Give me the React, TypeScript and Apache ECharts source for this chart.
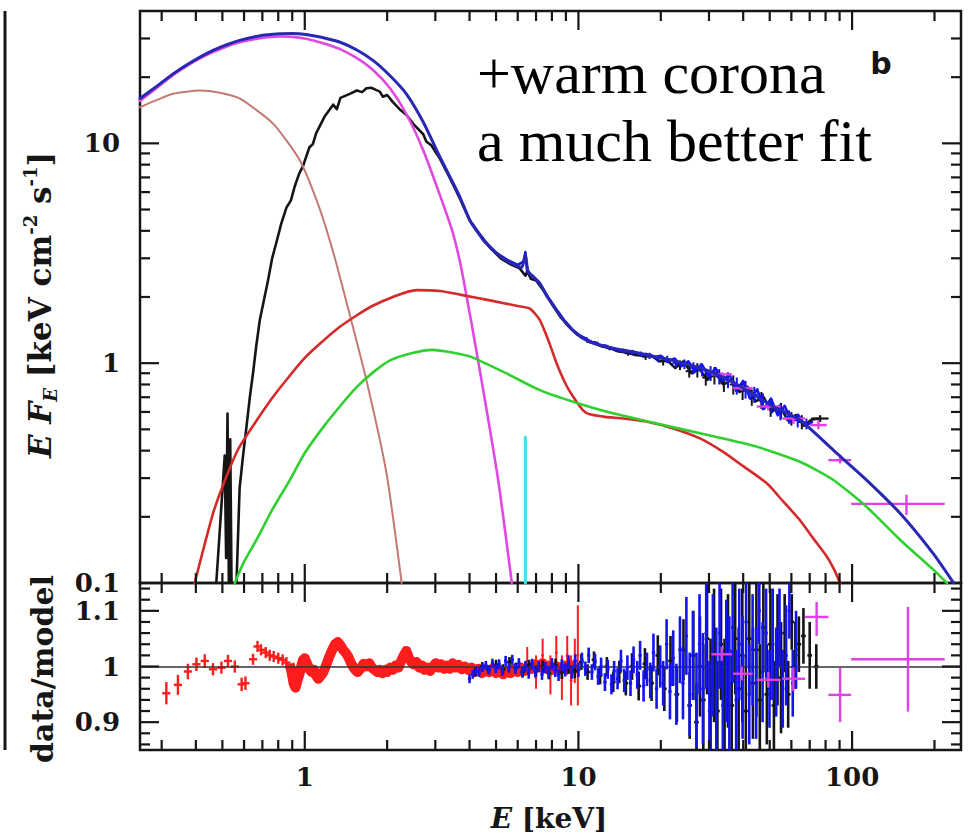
import React, { useEffect, useRef } from "react";
import * as echarts from "echarts";

// ---------------- axis ticks / labels ----------------
const xMajorTicks = [1, 10, 100];
const xMinorTicks = [0.3, 0.4, 0.5, 0.6, 0.7, 0.8, 0.9, 2, 3, 4, 5, 6, 7, 8, 9, 20, 30, 40, 50, 60, 70, 80, 90, 200];
const fluxMajorTicks = [1, 10];
const fluxMinorTicks = [0.2, 0.3, 0.4, 0.5, 0.6, 0.7, 0.8, 0.9, 2, 3, 4, 5, 6, 7, 8, 9, 20, 30];
const ratioMajorTicks = [0.9, 1.0, 1.1];
const ratioTickLabels = ["0.9", "1", "1.1"];
const ratioMinorTicks = [0.86, 0.88, 0.92, 0.94, 0.96, 0.98, 1.02, 1.04, 1.06, 1.08, 1.12, 1.14];

// ---------------- model components (E [keV], E F_E) ----------------
const totalModel = [
  [0.25, 16.0], [0.29, 18.3], [0.33, 20.7], [0.38, 23.2], [0.437, 25.6], [0.5, 27.6], [0.578, 29.4],
  [0.68, 30.8], [0.81, 31.5], [0.9, 31.6], [1.01, 31.3], [1.15, 30.4], [1.34, 28.9], [1.55, 26.6],
  [1.78, 23.8], [2.05, 20.3], [2.35, 16.8], [2.7, 12.6], [3.12, 8.66], [3.4, 7.0], [3.69, 5.7],
  [4.01, 4.47], [4.35, 3.85], [4.75, 3.38], [5.3, 3.0], [5.8, 2.82], [6.2, 2.72], [6.4, 3.1],
  [6.55, 2.62], [7.23, 2.3], [7.7, 2.0], [8.32, 1.74], [9.0, 1.52], [9.85, 1.36], [11.0, 1.25],
  [13.0, 1.18], [16.8, 1.107], [22, 1.03], [29.4, 0.93], [38, 0.8], [51.6, 0.633], [64.5, 0.551],
  [85.4, 0.402], [113, 0.294], [150, 0.207], [198, 0.136], [235, 0.1],
];
const softComptonModel = [
  [0.25, 15.6], [0.29, 18.0], [0.33, 20.4], [0.38, 22.9], [0.437, 25.2], [0.5, 27.1], [0.578, 28.8],
  [0.68, 30.0], [0.81, 30.6], [0.9, 30.5], [1.01, 29.9], [1.15, 28.7], [1.34, 26.9], [1.55, 24.4],
  [1.78, 21.5], [2.05, 17.8], [2.35, 13.6], [2.7, 9.4], [3.12, 5.8], [3.48, 3.9], [3.78, 2.5],
  [4.36, 0.93], [5.09, 0.294], [5.71, 0.1],
];
const discModel = [
  [0.25, 14.6], [0.29, 15.8], [0.33, 16.8], [0.413, 17.4], [0.49, 17.0], [0.578, 16.0], [0.766, 12.3],
  [0.959, 8.37], [1.13, 5.1], [1.27, 3.2], [1.42, 1.9], [1.68, 0.837], [1.99, 0.315], [2.26, 0.1],
];
const reflectionModel = [
  [0.396, 0.1], [0.462, 0.207], [0.52, 0.31], [0.578, 0.417], [0.766, 0.703], [1.01, 1.07], [1.34, 1.46],
  [1.78, 1.83], [2.56, 2.15], [3.12, 2.13], [3.69, 2.05], [4.75, 1.93], [6.0, 1.82], [6.65, 1.77],
  [7.23, 1.57], [7.8, 1.25], [8.32, 1.0], [9.0, 0.8], [9.57, 0.703], [10.4, 0.61], [11.0, 0.585],
  [12.5, 0.57], [14.6, 0.56], [18, 0.54], [22.2, 0.505], [27.8, 0.455], [33.8, 0.395], [40, 0.34],
  [48.8, 0.284], [56, 0.235], [64.5, 0.193], [72, 0.16], [80.8, 0.132], [86, 0.115], [90.4, 0.1],
];
const hotCoronaModel = [
  [0.555, 0.1], [0.6, 0.125], [0.666, 0.157], [0.76, 0.215], [0.882, 0.294], [1.0, 0.39], [1.17, 0.513],
  [1.35, 0.64], [1.55, 0.78], [1.8, 0.92], [2.05, 1.03], [2.45, 1.11], [2.94, 1.15], [3.3, 1.13],
  [3.69, 1.1], [4.12, 1.06], [5.46, 0.898], [7.23, 0.754], [9.57, 0.667], [12.7, 0.601], [19.3, 0.532],
  [29.4, 0.472], [44, 0.42], [64.5, 0.356], [85.4, 0.294], [113, 0.222], [150, 0.157], [198, 0.115],
  [222, 0.1],
];
const ironLine = [[6.4, 0.1], [6.4, 0.46]];

// ---------------- unfolded data (top panel) ----------------
const blackData = [
  [0.475, 0.1], [0.51, 0.38], [0.516, 0.13], [0.522, 0.59], [0.528, 0.1], [0.534, 0.45], [0.54, 0.1],
  [0.563, 0.1], [0.578, 0.27], [0.595, 0.38], [0.612, 0.51], [0.63, 0.7], [0.647, 0.9], [0.665, 1.2],
  [0.685, 1.57], [0.71, 1.95], [0.734, 2.38], [0.76, 3.0], [0.788, 3.55], [0.82, 4.3], [0.857, 5.1],
  [0.89, 5.5], [0.92, 6.4], [0.955, 7.3], [0.986, 7.9], [1.04, 9.6], [1.07, 9.9], [1.1, 11.1],
  [1.18, 13.2], [1.27, 15.0], [1.31, 14.3], [1.35, 16.1], [1.46, 16.8], [1.55, 17.4], [1.62, 17.1],
  [1.68, 17.8], [1.75, 17.9], [1.82, 17.5], [1.88, 17.2], [1.93, 16.3], [2.0, 16.6], [2.1, 15.4],
  [2.22, 14.3], [2.35, 13.5], [2.5, 12.2], [2.71, 11.0], [2.78, 10.2], [2.9, 9.8], [3.12, 8.5],
  [3.4, 6.9], [3.69, 5.6], [4.01, 4.45], [4.4, 3.8], [4.75, 3.35], [5.2, 3.0], [5.7, 2.8], [6.1, 2.7],
  [6.4, 2.5], [6.5, 2.62], [6.7, 2.42], [7.0, 2.38], [7.5, 2.12], [8.0, 1.86], [8.6, 1.62], [9.2, 1.48],
  [9.9, 1.35], [10.6, 1.29], [11.4, 1.23], [12.2, 1.19], [13.1, 1.17], [14.0, 1.13], [15.0, 1.12],
  [16.1, 1.09], [17.2, 1.08], [18.4, 1.09], [19.7, 1.02], [21.1, 1.03], [22.6, 0.95], [24.2, 1.02],
  [25.9, 0.9], [27.7, 0.94], [29.6, 0.84], [31.7, 0.9], [33.9, 0.8], [36.3, 0.84], [38.8, 0.74],
  [41.5, 0.78], [44.4, 0.67], [47.5, 0.7], [50.8, 0.6], [54.4, 0.64], [58.2, 0.55], [62.3, 0.58],
  [66.7, 0.52], [71.4, 0.555], [76.4, 0.56],
];
const blueData = [
  [4.1, 4.3], [4.5, 3.6], [5.0, 3.18], [5.5, 2.95], [6.0, 2.8], [6.3, 2.9], [6.4, 3.2], [6.5, 2.6],
  [6.8, 2.5], [7.2, 2.33], [7.7, 2.02], [8.3, 1.76], [8.9, 1.56], [9.5, 1.42], [10.2, 1.33], [11.0, 1.26],
  [11.8, 1.22], [12.5, 1.19], [13.3, 1.17], [14.1, 1.14], [15.0, 1.13], [15.8, 1.13], [16.8, 1.1],
  [17.8, 1.1], [18.9, 1.06], [20.0, 1.08], [21.2, 1.02], [22.5, 1.05], [23.8, 0.97], [25.2, 1.02],
  [26.7, 0.92], [28.2, 0.99], [29.9, 0.87], [31.7, 0.95], [33.6, 0.83], [35.6, 0.89], [37.7, 0.75],
  [40.0, 0.83], [42.4, 0.69], [45.0, 0.76], [47.7, 0.62], [50.5, 0.69], [53.5, 0.58], [56.7, 0.64],
  [60.0, 0.54], [63.6, 0.58], [67.4, 0.52], [71.4, 0.54],
];
// [E, F, dF]
const blueTopBars = [
  [10.5, 1.3, 0.02], [11.5, 1.24, 0.02], [12.5, 1.2, 0.02], [13.5, 1.16, 0.025], [14.6, 1.14, 0.025],
  [15.7, 1.12, 0.03], [16.9, 1.1, 0.03], [18.2, 1.08, 0.035], [19.6, 1.05, 0.04], [21.1, 1.04, 0.04],
  [22.7, 1.0, 0.045], [24.4, 0.99, 0.05], [26.3, 0.95, 0.06], [28.3, 0.93, 0.06], [30.4, 0.9, 0.07],
  [32.7, 0.87, 0.07], [35.2, 0.84, 0.07], [37.9, 0.79, 0.07], [40.8, 0.76, 0.07], [43.9, 0.72, 0.06],
  [47.2, 0.67, 0.06], [50.8, 0.64, 0.05], [54.7, 0.6, 0.05], [58.8, 0.57, 0.04], [63.3, 0.55, 0.04],
  [68.1, 0.53, 0.03],
];
const blackTopBars = [
  [11.0, 1.25, 0.02], [13.0, 1.17, 0.025], [15.2, 1.11, 0.03], [17.6, 1.07, 0.035], [20.4, 1.02, 0.045],
  [23.5, 0.98, 0.05], [25.4, 0.92, 0.06], [27.2, 0.93, 0.07], [29.2, 0.86, 0.07], [31.4, 0.88, 0.08],
  [34.0, 0.81, 0.07], [36.8, 0.8, 0.08], [39.8, 0.75, 0.07], [43.0, 0.7, 0.06], [46.6, 0.68, 0.06],
  [50.4, 0.62, 0.05], [55.0, 0.61, 0.05], [60.0, 0.56, 0.04], [65.5, 0.54, 0.04],
];
// [E, F, Elo, Ehi, Flo, Fhi]
const pinkData = [
  [33.4, 0.89, 30.6, 36.4, 0.87, 0.91], [39.5, 0.77, 36.7, 43.3, 0.75, 0.79],
  [49.4, 0.635, 44.8, 54.8, 0.61, 0.66], [61, 0.56, 55.6, 67.3, 0.53, 0.58],
  [75.3, 0.523, 70.1, 80.8, 0.5, 0.55], [90.4, 0.362, 81.9, 99.2, 0.35, 0.375],
  [158, 0.229, 99.2, 218, 0.204, 0.252],
];
const blackEndCross = [[76.4, 0.56, 71.0, 82.0, 0.54, 0.58]];

// ---------------- residuals (data/model) ----------------
// [E, ratio, error]
const redResCrosses = [
  [0.312, 0.952, 0.02], [0.344, 0.967, 0.018], [0.374, 0.991, 0.014], [0.402, 1.004, 0.012],
  [0.431, 1.01, 0.012], [0.462, 0.995, 0.011], [0.496, 0.998, 0.011], [0.524, 1.01, 0.011],
  [0.555, 1.0, 0.011], [0.588, 0.968, 0.012], [0.607, 0.97, 0.012], [0.647, 1.013, 0.01],
  [0.672, 1.036, 0.01], [0.692, 1.03, 0.01], [0.72, 1.025, 0.01], [0.745, 1.02, 0.01],
  [0.77, 1.018, 0.01], [0.8, 1.015, 0.01], [0.83, 1.012, 0.01], [0.857, 1.007, 0.01],
];
const redResBand = [
  [0.88, 1.005], [0.895, 0.99], [0.91, 0.97], [0.925, 0.962], [0.94, 0.975], [0.955, 0.985], [0.97, 1.0],
  [0.985, 1.012], [1.0, 1.015], [1.02, 1.005], [1.04, 0.995], [1.06, 0.99], [1.08, 0.994], [1.1, 0.984],
  [1.12, 0.978], [1.14, 0.982], [1.17, 0.99], [1.2, 1.004], [1.23, 1.018], [1.26, 1.03], [1.29, 1.04],
  [1.32, 1.044], [1.35, 1.038], [1.38, 1.03], [1.41, 1.025], [1.44, 1.018], [1.47, 1.008], [1.5, 1.0],
  [1.53, 0.994], [1.56, 0.99], [1.6, 0.996], [1.64, 1.005], [1.68, 1.0], [1.72, 1.006], [1.76, 0.998],
  [1.8, 0.994], [1.84, 0.99], [1.88, 0.994], [1.92, 0.988], [1.96, 0.994], [2.0, 0.99], [2.05, 0.998],
  [2.1, 0.994], [2.15, 1.002], [2.2, 0.998], [2.25, 1.01], [2.3, 1.02], [2.35, 1.028], [2.4, 1.016],
  [2.45, 1.008], [2.5, 1.004], [2.56, 1.008], [2.62, 0.998], [2.68, 1.002], [2.74, 0.994], [2.8, 0.998],
  [2.87, 0.992], [2.94, 1.0], [3.01, 1.006], [3.08, 0.998], [3.15, 1.004], [3.23, 0.996], [3.31, 1.002],
  [3.39, 0.996], [3.47, 1.006], [3.56, 0.998], [3.65, 1.003], [3.75, 0.995], [3.85, 1.0], [3.96, 0.994],
  [4.07, 0.998], [4.19, 0.99], [4.31, 0.996], [4.44, 0.988], [4.57, 0.994], [4.71, 0.99], [4.85, 0.996],
  [5.0, 0.988], [5.15, 0.994], [5.31, 0.986], [5.47, 0.992], [5.64, 0.988], [5.81, 0.995], [5.99, 0.99],
  [6.17, 0.998], [6.36, 0.992], [6.55, 1.0], [6.75, 0.996], [6.96, 1.004], [7.17, 0.998], [7.39, 1.006],
  [7.62, 0.996], [7.85, 1.002], [8.09, 0.994], [8.34, 1.0], [8.6, 0.994], [8.86, 1.002], [9.13, 0.996],
  [9.41, 1.002], [9.7, 0.996], [9.95, 1.0],
];
const redResBars = [
  [6.5, 1.01, 0.025], [7.0, 0.99, 0.03], [7.4, 1.02, 0.03], [7.9, 0.985, 0.035], [8.3, 1.025, 0.03],
  [8.7, 0.98, 0.04], [9.1, 1.02, 0.035], [9.4, 0.975, 0.045], [9.7, 1.01, 0.04], [9.95, 1.02, 0.09],
];
const blueRes = [
  [4.0, 0.978, 0.008], [4.11, 0.986, 0.008], [4.22, 0.992, 0.008], [4.34, 0.99, 0.008], [4.46, 0.998, 0.008],
  [4.59, 1.002, 0.008], [4.72, 0.994, 0.008], [4.85, 1.006, 0.008], [4.99, 0.996, 0.008], [5.13, 1.004, 0.009],
  [5.27, 0.992, 0.009], [5.42, 1.01, 0.009], [5.57, 0.998, 0.009], [5.73, 1.012, 0.009], [5.89, 0.996, 0.009],
  [6.06, 1.006, 0.009], [6.23, 0.99, 0.009], [6.4, 1.0, 0.01], [6.58, 0.988, 0.01], [6.77, 1.004, 0.01],
  [6.96, 0.99, 0.01], [7.16, 1.0, 0.01], [7.36, 0.986, 0.01], [7.57, 0.998, 0.01], [7.78, 0.99, 0.011],
  [8.0, 1.004, 0.011], [8.23, 0.992, 0.011], [8.46, 0.985, 0.011], [8.7, 1.002, 0.011], [8.95, 0.994, 0.012],
  [9.2, 1.008, 0.012], [9.46, 0.99, 0.012], [9.73, 1.01, 0.012], [10.0, 0.994, 0.013], [10.3, 1.012, 0.013],
  [10.6, 0.996, 0.013], [10.9, 1.02, 0.014], [11.2, 0.99, 0.014], [11.5, 1.008, 0.015], [11.8, 0.982, 0.015],
  [12.1, 1.0, 0.016], [12.5, 0.972, 0.016], [12.8, 0.995, 0.017], [13.2, 0.968, 0.018], [13.5, 0.992, 0.018],
  [13.9, 0.978, 0.019], [14.3, 1.01, 0.02], [14.7, 0.975, 0.021], [15.1, 0.998, 0.022], [15.5, 0.97, 0.023],
  [15.9, 1.012, 0.024], [16.4, 0.985, 0.025], [16.8, 1.02, 0.026], [17.3, 0.965, 0.028], [17.8, 0.995, 0.03],
  [18.3, 0.975, 0.032], [18.8, 1.025, 0.034], [19.3, 0.96, 0.036], [19.9, 1.0, 0.038], [20.4, 0.97, 0.04],
  [21.0, 1.04, 0.045], [21.6, 0.955, 0.05], [22.2, 1.015, 0.05], [22.8, 0.95, 0.055], [23.5, 1.03, 0.06],
  [24.1, 0.97, 0.065], [24.8, 1.055, 0.07], [25.5, 0.95, 0.075], [26.2, 1.02, 0.08], [27.0, 0.94, 0.085],
  [27.7, 1.04, 0.09], [28.5, 0.96, 0.1], [29.3, 1.06, 0.1], [30.1, 0.92, 0.09], [31.0, 1.02, 0.11],
  [31.9, 0.96, 0.11], [32.8, 1.06, 0.1], [33.7, 0.93, 0.1], [34.7, 1.01, 0.11], [35.6, 0.97, 0.12],
  [36.6, 1.07, 0.1], [37.7, 0.94, 0.09], [38.7, 1.04, 0.1], [39.8, 0.98, 0.11], [41.0, 1.08, 0.08],
  [42.1, 0.95, 0.09], [43.3, 1.03, 0.1], [44.6, 0.97, 0.1], [45.8, 1.1, 0.06], [47.1, 0.99, 0.09],
  [48.5, 1.06, 0.08], [49.9, 0.96, 0.07], [51.3, 1.04, 0.1], [52.8, 0.99, 0.08], [54.3, 1.07, 0.07],
  [55.8, 0.96, 0.07], [57.4, 1.02, 0.09], [59.0, 1.1, 0.05], [60.7, 0.97, 0.06], [62.4, 1.03, 0.07],
];
const blackRes = [
  [4.2, 0.99, 0.008], [4.45, 1.0, 0.008], [4.7, 0.994, 0.008], [5.0, 1.003, 0.009], [5.3, 0.995, 0.009],
  [5.6, 1.008, 0.009], [5.9, 0.998, 0.009], [6.25, 0.99, 0.01], [6.6, 1.002, 0.01], [7.0, 0.992, 0.01],
  [7.4, 1.0, 0.011], [7.8, 0.988, 0.011], [8.25, 1.002, 0.012], [8.7, 0.99, 0.012], [9.2, 1.0, 0.013],
  [9.7, 0.992, 0.013], [10.25, 1.008, 0.014], [10.8, 0.99, 0.014], [11.4, 1.012, 0.015], [12.0, 0.984, 0.016],
  [12.7, 1.0, 0.017], [13.4, 0.972, 0.018], [14.1, 0.99, 0.02], [14.9, 0.97, 0.022], [15.7, 1.0, 0.024],
  [16.6, 0.965, 0.026], [17.5, 1.005, 0.028], [18.5, 0.97, 0.032], [19.5, 1.02, 0.036], [20.6, 0.96, 0.04],
  [21.7, 1.01, 0.045], [22.9, 0.95, 0.05], [24.2, 1.03, 0.055], [25.5, 0.93, 0.06], [26.3, 1.02, 0.08],
  [27.0, 0.9, 0.07], [27.8, 1.0, 0.09], [28.6, 0.94, 0.1], [29.5, 1.05, 0.1], [30.4, 0.95, 0.1],
  [31.3, 1.02, 0.12], [32.2, 0.92, 0.09], [33.2, 1.04, 0.1], [34.2, 0.95, 0.1], [35.2, 1.01, 0.12],
  [36.3, 0.93, 0.1], [37.4, 1.05, 0.1], [38.5, 0.96, 0.11], [39.7, 1.02, 0.12], [40.9, 0.92, 0.1],
  [42.1, 1.05, 0.1], [43.4, 0.97, 0.1], [44.7, 1.03, 0.12], [46.0, 0.94, 0.1], [47.4, 1.07, 0.08],
  [48.8, 0.95, 0.09], [50.3, 1.04, 0.1], [51.8, 0.93, 0.08], [53.4, 1.03, 0.1], [55.0, 0.98, 0.1],
  [56.7, 1.06, 0.07], [58.4, 0.95, 0.06], [60.2, 1.08, 0.05], [62.0, 1.02, 0.06], [63.9, 1.04, 0.05],
  [66.4, 1.055, 0.05], [70, 1.02, 0.06], [74, 1.0, 0.04],
];
// [E, ratio, Elo, Ehi, rlo, rhi]
const pinkRes = [
  [33.4, 1.022, 30.6, 36.4, 1.01, 1.035], [39.5, 0.987, 36.7, 43.3, 0.975, 1.0],
  [49.4, 0.976, 44.8, 54.8, 0.962, 0.99], [61, 0.978, 55.6, 67.3, 0.956, 0.998],
  [74.2, 1.089, 67.3, 81.9, 1.055, 1.116], [90.4, 0.949, 81.9, 99.2, 0.9, 0.998],
  [160, 1.013, 99.2, 218, 0.919, 1.107],
];

// ---------------- colours ----------------
const C = {
  axis: "#161616",
  total: "#2828b4",
  soft: "#e048e0",
  disc: "#c47a74",
  refl: "#d42a2a",
  hot: "#2fd02f",
  iron: "#3fe0ea",
  black: "#151515",
  blue: "#1414f0",
  pink: "#e040e8",
  red: "#ff1c1c",
};

const LABEL_FONT = "'DejaVu Serif', serif";

function toBars(rows: number[][], binFactor: number) {
  return rows.map(([e, r, err]) => [e, r, e / binFactor, e * binFactor, r - err, r + err]);
}

function errorSeries(name: string, data: number[][], color: string, idx: number, lw: number, z: number) {
  return {
    type: "custom",
    name,
    xAxisIndex: idx,
    yAxisIndex: idx,
    silent: true,
    clip: true,
    z,
    data,
    renderItem: (_params: any, api: any) => {
      const x = api.value(0), y = api.value(1);
      const a = api.coord([api.value(2), y]);
      const b = api.coord([api.value(3), y]);
      const c = api.coord([x, api.value(4)]);
      const d = api.coord([x, api.value(5)]);
      return {
        type: "group",
        children: [
          { type: "line", shape: { x1: a[0], y1: a[1], x2: b[0], y2: b[1] }, style: { stroke: color, lineWidth: lw } },
          { type: "line", shape: { x1: c[0], y1: c[1], x2: d[0], y2: d[1] }, style: { stroke: color, lineWidth: lw } },
        ],
      };
    },
  };
}

function tickLayer(idx: number, yMaj: number[], yMin: number[], yRef: number) {
  return {
    type: "custom",
    name: "ticks" + idx,
    xAxisIndex: idx,
    yAxisIndex: idx,
    silent: true,
    clip: false,
    z: 30,
    data: [[1, yRef]],
    renderItem: (params: any, api: any) => {
      const cs = params.coordSys;
      const x0 = cs.x, y0 = cs.y, x1 = cs.x + cs.width, y1 = cs.y + cs.height;
      const kids: any[] = [];
      const add = (a: number, b: number, c: number, d: number) =>
        kids.push({ type: "line", shape: { x1: a, y1: b, x2: c, y2: d }, style: { stroke: C.axis, lineWidth: 2.2 } });
      const doX = (vals: number[], len: number) =>
        vals.forEach((v) => {
          const px = api.coord([v, yRef])[0];
          add(px, y0, px, y0 + len);
          add(px, y1, px, y1 - len);
        });
      const doY = (vals: number[], len: number) =>
        vals.forEach((v) => {
          const py = api.coord([1, v])[1];
          add(x0, py, x0 + len, py);
          add(x1, py, x1 - len, py);
        });
      doX(xMajorTicks, 19);
      doX(xMinorTicks, 10);
      doY(yMaj, 19);
      doY(yMin, 10);
      return { type: "group", children: kids };
    },
  };
}

function lineSeries(name: string, data: number[][], color: string, width: number, z: number, smooth: number | boolean = false) {
  return {
    type: "line",
    name,
    xAxisIndex: 0,
    yAxisIndex: 0,
    data,
    showSymbol: false,
    symbol: "none",
    smooth,
    silent: true,
    z,
    lineStyle: { color, width, cap: "round", join: "round" },
  };
}

const tickLabel = {
  fontFamily: LABEL_FONT,
  fontWeight: "bold" as const,
  fontSize: 26,
  color: C.axis,
};

export default function App() {
  const ref = useRef<HTMLDivElement>(null);
  useEffect(() => {
    if (!ref.current) return;
    const chart = echarts.init(ref.current, undefined, { renderer: "svg" });
    const fmtLog = (v: number) => String(parseFloat(Number(v).toPrecision(6)));
    const fmtRatio = (v: number) => {
      const i = ratioMajorTicks.findIndex((t) => Math.abs(t - v) < 1e-6);
      return i >= 0 ? ratioTickLabels[i] : "";
    };
    const option: any = {
      animation: false,
      backgroundColor: "#ffffff",
      grid: [
        { left: 140, top: 11, right: 7, height: 572, show: true, borderColor: C.axis, borderWidth: 2.5, backgroundColor: "transparent" },
        { left: 140, top: 583, right: 7, height: 167, show: true, borderColor: C.axis, borderWidth: 2.5, backgroundColor: "transparent" },
      ],
      xAxis: [
        {
          type: "log", gridIndex: 0, min: 0.25, max: 250, logBase: 10,
          axisLine: { show: false }, axisTick: { show: false }, axisLabel: { show: false }, splitLine: { show: false },
        },
        {
          type: "log", gridIndex: 1, min: 0.25, max: 250, logBase: 10,
          axisLine: { show: false }, axisTick: { show: false }, splitLine: { show: false },
          axisLabel: { ...tickLabel, margin: 14, showMinLabel: false, showMaxLabel: false, formatter: fmtLog },
        },
      ],
      yAxis: [
        {
          type: "log", gridIndex: 0, min: 0.1, max: 40, logBase: 10,
          axisLine: { show: false }, axisTick: { show: false }, splitLine: { show: false },
          axisLabel: { ...tickLabel, margin: 20, showMaxLabel: false, formatter: fmtLog },
        },
        {
          type: "value", gridIndex: 1, min: 0.85, max: 1.15, interval: 0.05,
          axisLine: { show: false }, axisTick: { show: false }, splitLine: { show: false },
          axisLabel: { ...tickLabel, margin: 20, showMinLabel: false, showMaxLabel: false, formatter: fmtRatio },
        },
      ],
      series: [
        // top panel: data
        lineSeries("XMM data", blackData, C.black, 2.6, 2),
        errorSeries("black bars", toBars(blackTopBars, 1.03), C.black, 0, 2, 2),
        lineSeries("NuSTAR data", blueData, C.blue, 2.6, 3),
        errorSeries("blue bars", toBars(blueTopBars, 1.03), C.blue, 0, 2, 3),
        errorSeries("black end", blackEndCross, C.black, 0, 2.2, 3),
        errorSeries("BAT data", pinkData, C.pink, 0, 2.4, 4),
        // top panel: model components
        lineSeries("disc", discModel, C.disc, 2, 5, 0.2),
        lineSeries("warm corona", softComptonModel, C.soft, 2.6, 5, 0.2),
        lineSeries("reflection", reflectionModel, C.refl, 2.6, 5, 0.2),
        lineSeries("hot corona", hotCoronaModel, C.hot, 2.6, 5, 0.2),
        lineSeries("Fe line", ironLine, C.iron, 3, 5),
        lineSeries("total model", totalModel, C.total, 3, 6, 0.2),
        // bottom panel
        {
          type: "line",
          name: "red residual band",
          xAxisIndex: 1,
          yAxisIndex: 1,
          data: redResBand,
          showSymbol: false,
          symbol: "none",
          silent: true,
          z: 3,
          lineStyle: { color: C.red, width: 10, join: "round" },
          markLine: {
            silent: true,
            symbol: ["none", "none"],
            label: { show: false },
            lineStyle: { color: "#333", width: 1.6, type: "solid" },
            data: [{ yAxis: 1 }],
          },
        },
        errorSeries("red residual crosses", toBars(redResCrosses, 1.035), C.red, 1, 2.4, 3),
        errorSeries("red residual bars", toBars(redResBars, 1.012), C.red, 1, 2, 3),
        errorSeries("black residual", toBars(blackRes, 1.02), C.black, 1, 2.6, 4),
        errorSeries("blue residual", toBars(blueRes, 1.014), C.blue, 1, 2.6, 5),
        errorSeries("pink residual", pinkRes, C.pink, 1, 2.4, 6),
        tickLayer(0, fluxMajorTicks, fluxMinorTicks, 1),
        tickLayer(1, ratioMajorTicks, ratioMinorTicks, 1),
      ],
      graphic: [
        {
          type: "line",
          shape: { x1: 5, y1: 11, x2: 5, y2: 750 },
          style: { stroke: C.axis, lineWidth: 3 },
        },
        {
          type: "text",
          x: 477,
          y: 103,
          style: { text: "+warm corona", fontFamily: "'Liberation Serif', serif", fontSize: 60, fill: "#000", align: "left", verticalAlign: "bottom" },
        },
        {
          type: "text",
          x: 477,
          y: 171,
          style: { text: "a much better fit", fontFamily: "'Liberation Serif', serif", fontSize: 60, fill: "#000", align: "left", verticalAlign: "bottom" },
        },
        {
          type: "text",
          x: 881,
          y: 63,
          style: { text: "b", fontFamily: "'DejaVu Sans', sans-serif", fontWeight: "bold", fontSize: 30, fill: C.axis, align: "center", verticalAlign: "middle" },
        },
        {
          type: "text",
          x: 40,
          y: 305,
          rotation: Math.PI / 2,
          style: {
            text: "{i|E F}{sub|E}{n| [keV cm}{sup|-2}{n| s}{sup|-1}{n|]}",
            align: "center",
            verticalAlign: "middle",
            fill: C.axis,
            rich: {
              i: { fontFamily: LABEL_FONT, fontWeight: "bold", fontStyle: "italic", fontSize: 31, lineHeight: 38, fill: C.axis },
              n: { fontFamily: LABEL_FONT, fontWeight: "bold", fontSize: 31, lineHeight: 38, fill: C.axis },
              sub: { fontFamily: LABEL_FONT, fontWeight: "bold", fontStyle: "italic", fontSize: 18, lineHeight: 18, verticalAlign: "bottom", fill: C.axis },
              sup: { fontFamily: LABEL_FONT, fontWeight: "bold", fontSize: 18, lineHeight: 18, verticalAlign: "top", fill: C.axis },
            },
          },
        },
        {
          type: "text",
          x: 42,
          y: 669,
          rotation: Math.PI / 2,
          style: { text: "data/model", fontFamily: LABEL_FONT, fontWeight: "bold", fontSize: 30, fill: C.axis, align: "center", verticalAlign: "middle" },
        },
        {
          type: "text",
          x: 549,
          y: 818,
          style: {
            text: "{i|E}{n| [keV]}",
            align: "center",
            verticalAlign: "middle",
            rich: {
              i: { fontFamily: LABEL_FONT, fontWeight: "bold", fontStyle: "italic", fontSize: 28, fill: C.axis },
              n: { fontFamily: LABEL_FONT, fontWeight: "bold", fontSize: 28, fill: C.axis },
            },
          },
        },
      ],
    };
    chart.setOption(option);
    return () => chart.dispose();
  }, []);
  return (
    <div
      ref={ref}
      style={{ position: "fixed", left: 0, top: 0, width: 968, height: 839, background: "#fff" }}
    />
  );
}
